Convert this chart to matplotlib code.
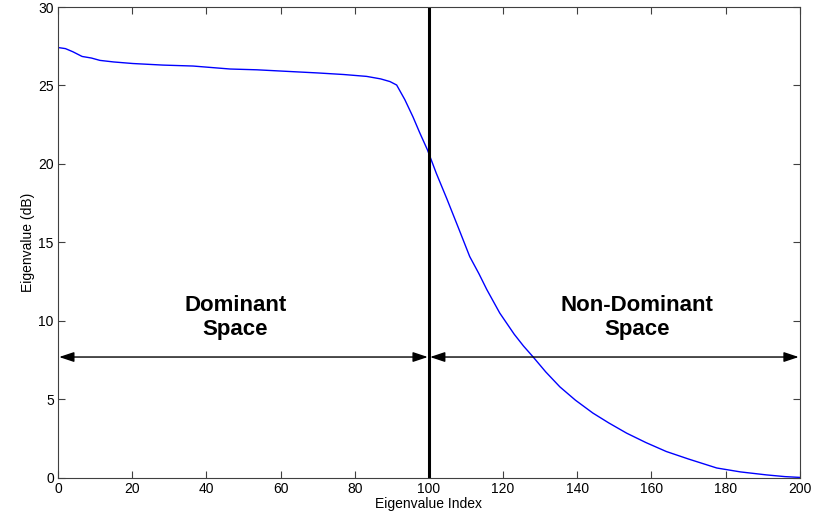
import numpy as np
import matplotlib.pyplot as plt

plt.rcParams['font.family'] = ['Liberation Sans', 'DejaVu Sans']

# eigenvalue spectrum (dB) sampled along the index axis
eig_index = [0, 2, 4, 6.5, 9, 11.3, 15, 20.2, 28.3, 36.4, 46.4, 53.6, 63.4, 70, 77, 83.2,
             87, 89.5, 91.3, 93.5, 95.7, 97.5, 99.6, 102, 104.8, 108, 111, 113.5, 115.6,
             119.1, 123, 125.5, 128, 131.5, 135.3, 139.5, 144.2, 148.5, 153.3, 158.5, 164,
             170, 177.6, 184, 191, 196, 200]
eig_db = [27.42, 27.35, 27.15, 26.85, 26.75, 26.6, 26.5, 26.4, 26.3, 26.24, 26.05, 26.0,
          25.88, 25.8, 25.7, 25.58, 25.42, 25.25, 25.03, 24.1, 23.0, 22.0, 20.9, 19.4,
          17.8, 15.9, 14.1, 13.0, 12.0, 10.5, 9.15, 8.4, 7.73, 6.75, 5.8, 4.95, 4.13,
          3.5, 2.85, 2.25, 1.68, 1.2, 0.63, 0.38, 0.19, 0.08, 0.03]

split_index = 100
arrow_level = 7.7
regions = [("Dominant\nSpace", 0, split_index, 47.8),
           ("Non-Dominant\nSpace", split_index, 200, 156.2)]

fig = plt.figure(figsize=(8.17, 5.2), dpi=100)
ax = fig.add_axes([0.071, 0.081, 0.908, 0.9055])

ax.plot(eig_index, eig_db, color="#0000ff", lw=1.0)
ax.axvline(split_index, color="black", lw=2.2)

for label, x0, x1, xt in regions:
    ax.annotate("", xy=(x0 + 0.3, arrow_level), xytext=(x1 - 0.3, arrow_level),
                arrowprops=dict(arrowstyle="<|-|>,head_length=0.9,head_width=0.3",
                                color="black", lw=1.0, shrinkA=0, shrinkB=0))
    ax.text(xt, 10.2, label, ha="center", va="center", fontsize=16,
            fontweight="bold", linespacing=1.2)

ax.set_xlim(0, 200)
ax.set_ylim(0, 30)
ax.set_xticks(np.arange(0, 201, 20))
ax.set_yticks(np.arange(0, 31, 5))
ax.tick_params(direction="in", top=True, right=True, length=5, labelsize=10,
               color="#404040", pad=3)
for sp in ax.spines.values():
    sp.set_color("#404040")
ax.set_xlabel("Eigenvalue Index", fontsize=10, labelpad=1)
ax.set_ylabel("Eigenvalue (dB)", fontsize=10, labelpad=2)

fig.savefig("out.png", dpi=100)
